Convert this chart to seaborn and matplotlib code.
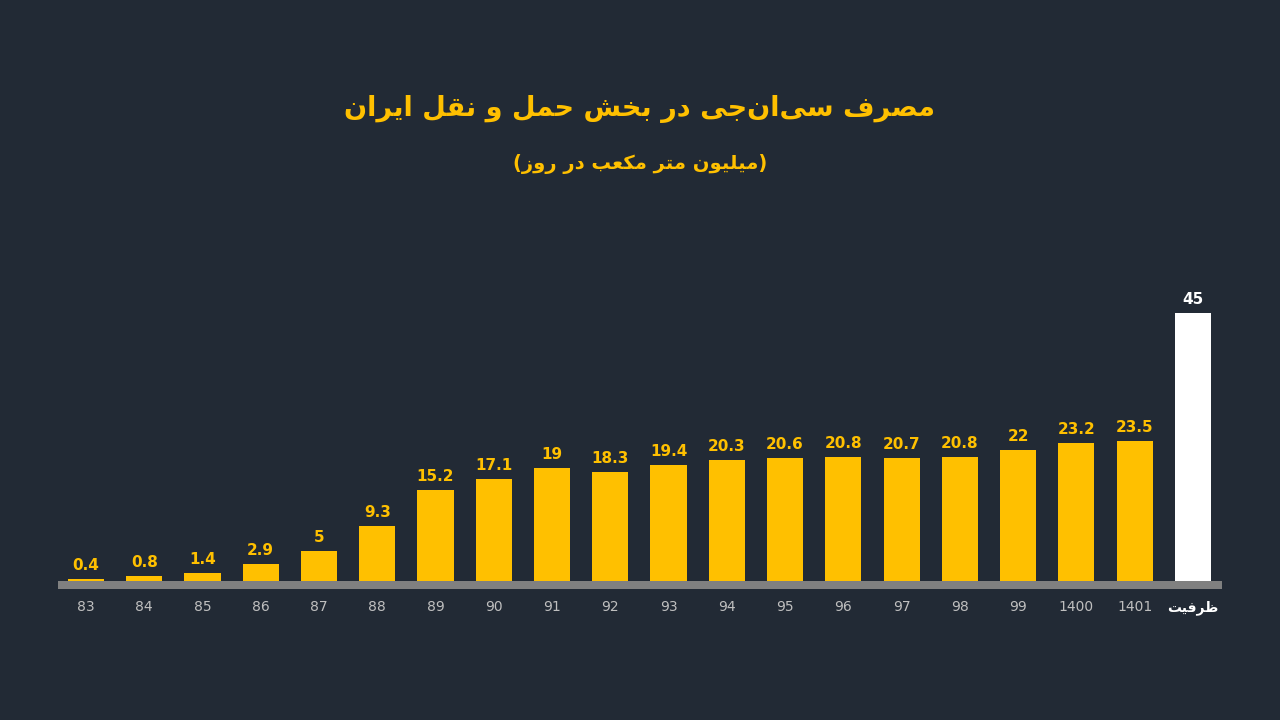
import matplotlib.pyplot as plt
import seaborn as sns

# data
years = ['83', '84', '85', '86', '87', '88', '89', '90', '91', '92', '93',
         '94', '95', '96', '97', '98', '99', '1400', '1401', 'ظرفیت']
cng_use = [0.4, 0.8, 1.4, 2.9, 5, 9.3, 15.2, 17.1, 19, 18.3, 19.4,
           20.3, 20.6, 20.8, 20.7, 20.8, 22, 23.2, 23.5, 45]
value_text = ['0.4', '0.8', '1.4', '2.9', '5', '9.3', '15.2', '17.1', '19', '18.3', '19.4',
              '20.3', '20.6', '20.8', '20.7', '20.8', '22', '23.2', '23.5', '45']
title = 'مصرف سی\u200cان\u200cجی در بخش حمل و نقل ایران'
subtitle = '(میلیون متر مکعب در روز)'

BG = '#222a35'
YELLOW = '#ffc000'

# matplotlib has no arabic shaping, so do it by hand (presentation forms + reverse)
# letter: (isolated, final, initial, medial) ; 2 forms = only joins to the right
FORMS = {
    'ا': (0xFE8D, 0xFE8E), 'د': (0xFEA9, 0xFEAA), 'ر': (0xFEAD, 0xFEAE),
    'ز': (0xFEAF, 0xFEB0), 'و': (0xFEED, 0xFEEE),
    'ب': (0xFE8F, 0xFE90, 0xFE91, 0xFE92), 'ت': (0xFE95, 0xFE96, 0xFE97, 0xFE98),
    'ج': (0xFE9D, 0xFE9E, 0xFE9F, 0xFEA0), 'ح': (0xFEA1, 0xFEA2, 0xFEA3, 0xFEA4),
    'خ': (0xFEA5, 0xFEA6, 0xFEA7, 0xFEA8), 'س': (0xFEB1, 0xFEB2, 0xFEB3, 0xFEB4),
    'ش': (0xFEB5, 0xFEB6, 0xFEB7, 0xFEB8), 'ص': (0xFEB9, 0xFEBA, 0xFEBB, 0xFEBC),
    'ظ': (0xFEC5, 0xFEC6, 0xFEC7, 0xFEC8), 'ع': (0xFEC9, 0xFECA, 0xFECB, 0xFECC),
    'ف': (0xFED1, 0xFED2, 0xFED3, 0xFED4), 'ق': (0xFED5, 0xFED6, 0xFED7, 0xFED8),
    'ل': (0xFEDD, 0xFEDE, 0xFEDF, 0xFEE0), 'م': (0xFEE1, 0xFEE2, 0xFEE3, 0xFEE4),
    'ن': (0xFEE5, 0xFEE6, 0xFEE7, 0xFEE8), 'ی': (0xFBFC, 0xFBFD, 0xFBFE, 0xFBFF),
    'ک': (0xFB8E, 0xFB8F, 0xFB90, 0xFB91),
}
MIRROR = {'(': ')', ')': '('}


def shape(s):
    if not any(c in FORMS for c in s):
        return s  # plain numbers stay as they are
    out = []
    for i, c in enumerate(s):
        if c not in FORMS:
            if c != '\u200c':
                out.append(MIRROR.get(c, c))
            continue
        f = FORMS[c]
        prev = s[i - 1] if i > 0 else ''
        nxt = s[i + 1] if i + 1 < len(s) else ''
        join_prev = prev in FORMS and len(FORMS[prev]) == 4
        join_next = len(f) == 4 and nxt in FORMS
        if join_prev and join_next:
            out.append(chr(f[3]))
        elif join_prev:
            out.append(chr(f[1]))
        elif join_next:
            out.append(chr(f[2]))
        else:
            out.append(chr(f[0]))
    return ''.join(reversed(out))


sns.set_theme(style='dark')
plt.rcParams['font.family'] = ['DejaVu Sans']

base = 1.34  # thickness of grey base strip, in data units
fig = plt.figure(figsize=(12.8, 7.2), dpi=100, facecolor=BG)
ax = fig.add_axes([58 / 1280, 131 / 720, (1222 - 58) / 1280, 306 / 720])
ax.set_facecolor(BG)

colors = [YELLOW] * (len(years) - 1) + ['#ffffff']
sns.barplot(x=years, y=cng_use, order=years, hue=years, palette=colors,
            legend=False, width=0.62, saturation=1, linewidth=0, ax=ax)

ax.set_xlim(-0.48, len(years) - 0.5)
ax.set_ylim(-base, 50)
for s in ax.spines.values():
    s.set_visible(False)
ax.set_yticks([])
ax.set_xlabel('')
ax.set_ylabel('')
ax.grid(False)

# grey base strip under the bars
ax.axhspan(-base, 0, color='#808080', lw=0, zorder=0)

# value labels
for i, (v, t) in enumerate(zip(cng_use, value_text)):
    ax.text(i, v + 1.0, t, ha='center', va='bottom', fontsize=11, fontweight='bold',
            color=colors[i])

ax.set_xticks(range(len(years)))
ax.set_xticklabels([shape(y) for y in years], fontsize=10, color='#bfbfbf')
ax.tick_params(axis='x', length=0, pad=8)
last = ax.get_xticklabels()[-1]
last.set_color('#ffffff')
last.set_fontweight('bold')

fig.text(0.5, 1 - 109 / 720, shape(title), ha='center', va='center',
         fontsize=19.5, fontweight='bold', color=YELLOW)
fig.text(0.5, 1 - 164 / 720, shape(subtitle), ha='center', va='center',
         fontsize=14, fontweight='bold', color=YELLOW)

fig.savefig('out.png', dpi=100, facecolor=BG)
